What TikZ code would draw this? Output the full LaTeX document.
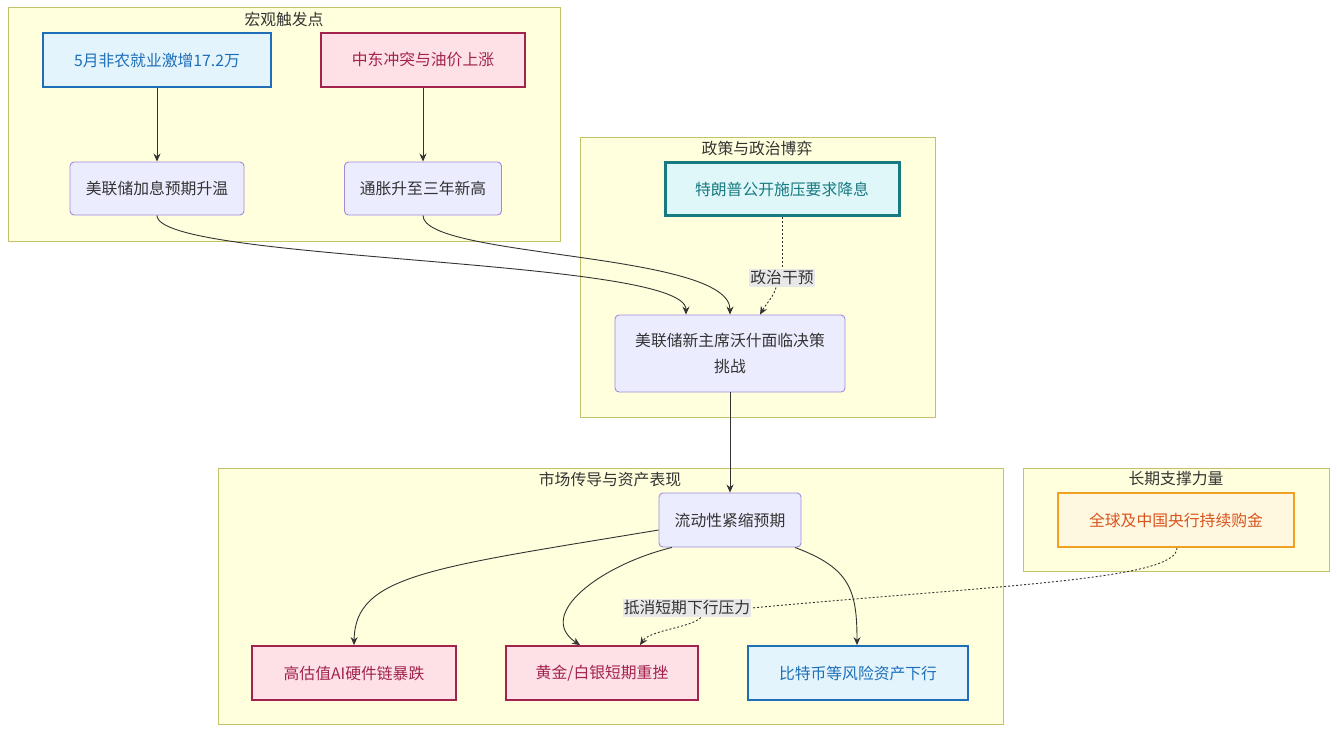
\documentclass[tikz,border=0pt]{standalone}
\usepackage{fontspec}
\setmainfont{Noto Sans CJK SC}
\usetikzlibrary{arrows.meta,positioning}
\definecolor{grpfill}{HTML}{FFFFDE}
\definecolor{grpdraw}{HTML}{C2C26A}
\definecolor{purfill}{HTML}{ECECFF}
\definecolor{purdraw}{HTML}{A08BDB}
\definecolor{bluefill}{HTML}{E3F4FD}
\definecolor{bluedraw}{HTML}{1E6FB8}
\definecolor{pinkfill}{HTML}{FDE1E6}
\definecolor{pinkdraw}{HTML}{A3234F}
\definecolor{tealfill}{HTML}{E0F7FA}
\definecolor{tealdraw}{HTML}{167A80}
\definecolor{orgfill}{HTML}{FFF8E1}
\definecolor{orgdraw}{HTML}{F2A024}
\definecolor{orgtext}{HTML}{D9541E}
\definecolor{txt}{HTML}{333333}
\definecolor{lblbg}{HTML}{E8E8E8}
\begin{document}
\begin{tikzpicture}[x=1pt,y=-1pt,
  every node/.style={font=\fontsize{15.8}{26}\selectfont, text=txt, inner sep=0pt},
  grp/.style={draw=grpdraw, fill=grpfill, line width=1pt},
  grptitle/.style={},
  purbox/.style={draw=purdraw, fill=purfill, rounded corners=4pt, line width=0.9pt, align=center},
  bluebox/.style={draw=bluedraw, fill=bluefill, line width=1.8pt, text=bluedraw},
  pinkbox/.style={draw=pinkdraw, fill=pinkfill, line width=1.8pt, text=pinkdraw},
  tealbox/.style={draw=tealdraw, fill=tealfill, line width=3pt, text=tealdraw},
  orgbox/.style={draw=orgdraw, fill=orgfill, line width=1.8pt, text=orgtext},
  edge/.style={draw=txt, line width=0.9pt, -{Stealth[length=8pt,width=7pt]}},
  dotedge/.style={draw=txt, line width=0.9pt, dash pattern=on 2pt off 2pt},
  dotarrow/.style={dotedge, -{Stealth[length=8pt,width=7pt]}},
  lbl/.style={fill=lblbg, inner xsep=1pt, inner ysep=2pt}
]
\useasboundingbox (0,0) rectangle (1337,733);
\fill[white] (0,0) rectangle (1337,733);

% groups
\draw[grp] (8,8) rectangle (560,241);
\node[grptitle] (t1) at (284,19) {宏观触发点};
\draw[grp] (580,137) rectangle (935,417);
\node[grptitle] (t2) at (757,148) {政策与政治博弈};
\draw[grp] (218,468) rectangle (1003,724);
\node[grptitle] (t3) at (610,479) {市场传导与资产表现};
\draw[grp] (1023,468) rectangle (1329,571);
\node[grptitle] (t4) at (1176,479) {长期支撑力量};

% nodes
\node[bluebox, minimum width=228pt, minimum height=54pt] (A) at (157,60) {5月非农就业激增17.2万};
\node[pinkbox, minimum width=204pt, minimum height=54pt] (B) at (423,60) {中东冲突与油价上涨};
\node[purbox, minimum width=174pt, minimum height=53pt] (C) at (157,188.5) {美联储加息预期升温};
\node[purbox, minimum width=157pt, minimum height=53pt] (D) at (423,188.5) {通胀升至三年新高};
\node[tealbox, minimum width=234pt, minimum height=53pt] (E) at (782,189) {特朗普公开施压要求降息};
\node[purbox, minimum width=230pt, minimum height=77pt] (F) at (730,353.5) {美联储新主席沃什面临决策\\挑战};
\node[purbox, minimum width=142pt, minimum height=54pt] (G) at (730,520) {流动性紧缩预期};
\node[pinkbox, minimum width=204pt, minimum height=54pt] (H) at (354,673) {高估值AI硬件链暴跌};
\node[pinkbox, minimum width=192pt, minimum height=54pt] (I) at (602,673) {黄金/白银短期重挫};
\node[bluebox, minimum width=220pt, minimum height=54pt] (J) at (858,673) {比特币等风险资产下行};
\node[orgbox, minimum width=236pt, minimum height=54pt] (K) at (1176,520) {全球及中国央行持续购金};

% labels
\node[lbl] (L1) at (782,278) {政治干预};
\node[lbl] (L2) at (687,608) {抵消短期下行压力};

% edges
\draw[edge] (A.south) -- (C.north);
\draw[edge] (B.south) -- (D.north);
\draw[edge] (C.south) .. controls (157,262) and (686,258) .. ([xshift=-44pt]F.north);
\draw[edge] (D.south) .. controls (423,258) and (730,252) .. (F.north);
\draw[dotedge] (E.south) -- (L1.north);
\draw[dotarrow] ([xshift=-6pt]L1.south) .. controls (774,296) and (766,304) .. ([xshift=30pt]F.north);
\draw[edge] (F.south) -- (G.north);
\draw[edge] ([yshift=-10pt]G.west) .. controls (430,568) and (355,575) .. (H.north);
\draw[edge] ([xshift=-58pt]G.south) .. controls (600,565) and (535,615) .. ([xshift=-22pt]I.north);
\draw[edge] ([xshift=65pt]G.south) .. controls (850,568) and (857,590) .. ([xshift=-1pt]J.north);
\draw[dotedge] ([xshift=1pt]K.south) .. controls (1177,580) and (1000,585) .. (L2.east);
\draw[dotarrow] ([xshift=14pt]L2.south) .. controls (690,628) and (650,630) .. ([xshift=38pt]I.north);
\end{tikzpicture}
\end{document}
